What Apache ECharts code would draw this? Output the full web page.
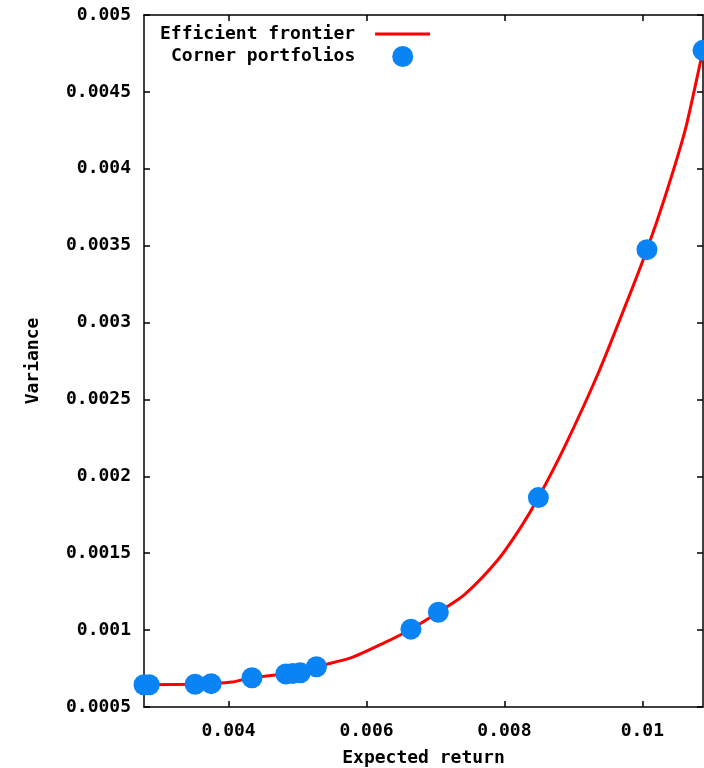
<!DOCTYPE html>
<html>
<head>
<meta charset="utf-8">
<script src="https://cdn.jsdelivr.net/npm/echarts@6/dist/echarts.min.js"></script>
<style>
html,body{margin:0;padding:0;background:#fff;}
#c{width:704px;height:768px;}
</style>
</head>
<body>
<div id="c"></div>
<script>
// Corner portfolios (expected return, variance)
var cornerReturn   = [0.002774, 0.00285, 0.003515, 0.003748, 0.00434, 0.00483, 0.00493, 0.00504, 0.005275, 0.006645, 0.007042, 0.008493, 0.010067, 0.01088];
var cornerVariance = [0.000645, 0.000645, 0.000648, 0.000652, 0.00069, 0.000715, 0.000718, 0.000722, 0.000762, 0.001006, 0.001116, 0.001862, 0.003474, 0.00477];

// Efficient frontier curve samples
var frontierReturn   = [0.002774, 0.00285, 0.003515, 0.003748, 0.00405, 0.00434, 0.00483, 0.00493, 0.00504, 0.005275, 0.005771, 0.006256, 0.006645, 0.007042, 0.007421, 0.007907, 0.008246, 0.008493, 0.008876, 0.009362, 0.00975, 0.010067, 0.010332, 0.010623, 0.01085, 0.01088];
var frontierVariance = [0.000645, 0.000645, 0.000648, 0.000652, 0.000662, 0.00069, 0.000715, 0.000718, 0.000722, 0.000762, 0.000819, 0.000917, 0.001006, 0.001116, 0.001231, 0.001458, 0.001675, 0.001862, 0.002195, 0.002672, 0.003105, 0.003474, 0.003821, 0.004254, 0.004709, 0.00477];

var xTicks = [0.004, 0.006, 0.008, 0.01];
var yTicks = [0.0005, 0.001, 0.0015, 0.002, 0.0025, 0.003, 0.0035, 0.004, 0.0045, 0.005];

var xMin = 0.002774, xMax = 0.01088;
var yMin = 0.0005, yMax = 0.005;

var FONT = '"DejaVu Sans Mono", "Liberation Mono", monospace';

function fmt(v){ return String(+(+v).toPrecision(6)); }
function isTick(v, list){
  for (var i=0;i<list.length;i++){ if (Math.abs(v-list[i]) < 1e-9) return true; }
  return false;
}

var frontier = frontierReturn.map(function(x,i){ return [x, frontierVariance[i]]; });
var corners = cornerReturn.map(function(x,i){ return [x, cornerVariance[i]]; });

var labelStyle = {color:'#000', fontFamily:FONT, fontWeight:'bold', fontSize:18};
var legendText = {color:'#000', fontFamily:FONT, fontWeight:'bold', fontSize:18, padding:[0,15,0,0]};

var chart = echarts.init(document.getElementById('c'), null, {renderer:'canvas'});
chart.setOption({
  animation:false,
  backgroundColor:'#fff',
  grid:{left:144, right:1, top:15, bottom:61, containLabel:false, outerBoundsMode:'none'},
  legend:[
    {
      data:[{name:'Efficient frontier', icon:'rect'}],
      left:155, top:20,
      itemWidth:55, itemHeight:3, itemGap:0,
      align:'right',
      textStyle:legendText,
      selectedMode:false
    },
    {
      data:['Corner portfolios'],
      left:166, top:41,
      itemWidth:55, itemHeight:21, itemGap:0,
      align:'right',
      textStyle:legendText,
      selectedMode:false
    }
  ],
  xAxis:[
    {
      type:'value', min:xMin, max:xMax,
      position:'bottom',
      name:'Expected return', nameLocation:'middle', nameGap:42,
      nameTextStyle:labelStyle,
      axisLine:{show:true, onZero:false, lineStyle:{color:'#000', width:1.5}},
      axisTick:{show:true, inside:true, length:6, lineStyle:{color:'#000', width:1.5}, customValues:xTicks},
      axisLabel:Object.assign({margin:15, formatter:function(v){ return isTick(v,xTicks)?fmt(v):''; }, customValues:xTicks}, labelStyle),
      splitLine:{show:false}
    },
    {
      type:'value', min:xMin, max:xMax,
      position:'top',
      axisLine:{show:true, onZero:false, lineStyle:{color:'#000', width:1.5}},
      axisTick:{show:true, inside:true, length:6, lineStyle:{color:'#000', width:1.5}, customValues:xTicks},
      axisLabel:{show:false, customValues:xTicks},
      splitLine:{show:false}
    }
  ],
  yAxis:[
    {
      type:'value', min:yMin, max:yMax, interval:0.0005,
      position:'left',
      name:'Variance', nameLocation:'middle', nameGap:102, nameRotate:90,
      nameTextStyle:labelStyle,
      axisLine:{show:true, onZero:false, lineStyle:{color:'#000', width:1.5}},
      axisTick:{show:true, inside:true, length:6, lineStyle:{color:'#000', width:1.5}},
      axisLabel:Object.assign({margin:13, formatter:function(v){ return fmt(v); }}, labelStyle),
      splitLine:{show:false}
    },
    {
      type:'value', min:yMin, max:yMax, interval:0.0005,
      position:'right',
      axisLine:{show:true, onZero:false, lineStyle:{color:'#000', width:1.5}},
      axisTick:{show:true, inside:true, length:6, lineStyle:{color:'#000', width:1.5}},
      axisLabel:{show:false},
      splitLine:{show:false}
    }
  ],
  series:[
    {
      name:'Efficient frontier', type:'line', data:frontier,
      xAxisIndex:0, yAxisIndex:0,
      symbol:'none', smooth:0.25,
      lineStyle:{color:'#ff0000', width:3},
      itemStyle:{color:'#ff0000'},
      clip:true, z:2
    },
    {
      name:'Corner portfolios', type:'scatter', data:corners,
      xAxisIndex:0, yAxisIndex:0,
      symbol:'circle', symbolSize:21,
      itemStyle:{color:'#0a84f5', opacity:1},
      clip:false, z:3
    }
  ]
});
</script>
</body>
</html>
